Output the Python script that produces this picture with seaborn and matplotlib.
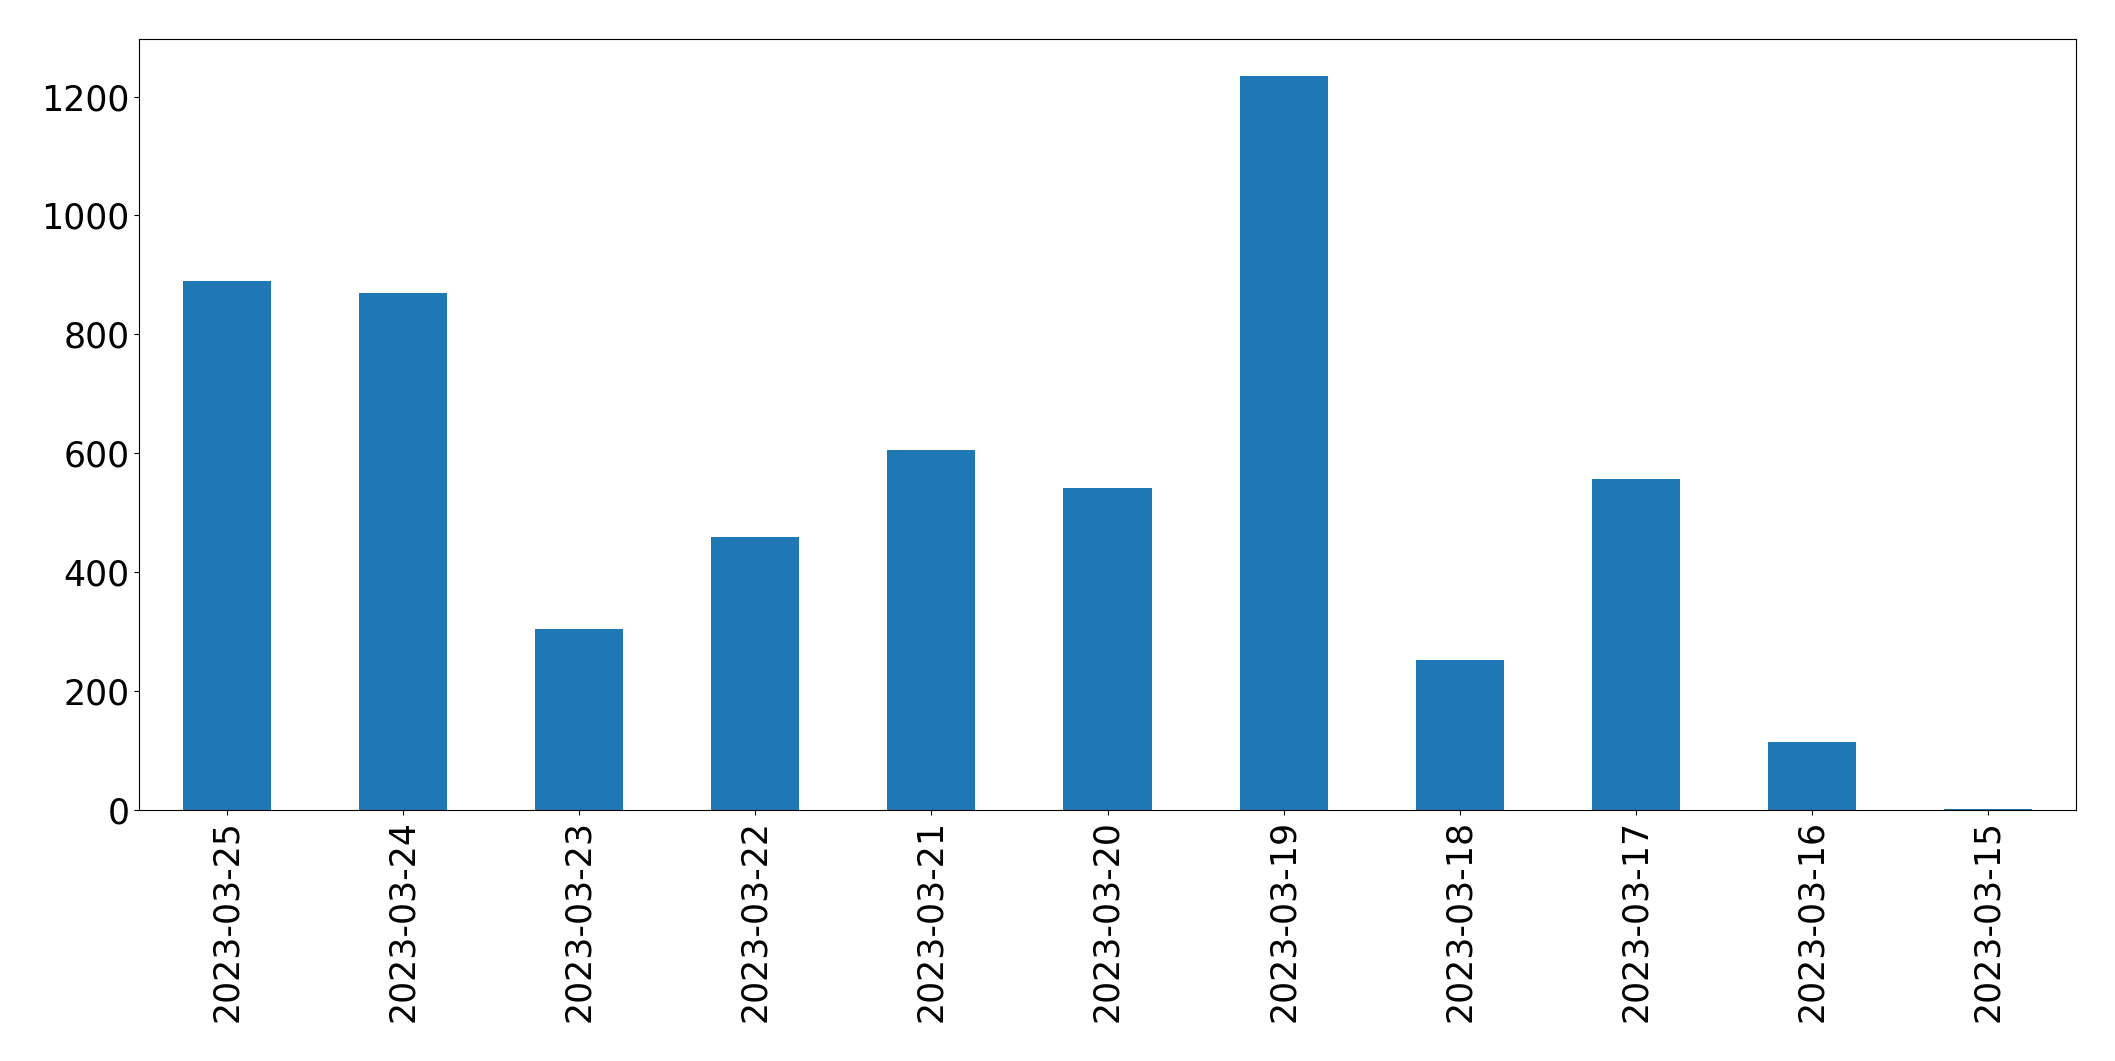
import matplotlib
matplotlib.use("Agg")
import matplotlib.pyplot as plt
import seaborn as sns

dates = ['2023-03-25', '2023-03-24', '2023-03-23', '2023-03-22', '2023-03-21',
         '2023-03-20', '2023-03-19', '2023-03-18', '2023-03-17', '2023-03-16',
         '2023-03-15']
counts = [889, 870, 305, 459, 605, 541, 1235, 253, 557, 115, 2]

fig = plt.figure(figsize=(21.15, 10.61), dpi=100)
ax = fig.add_axes([139 / 2115, 1 - 810 / 1061, (2076 - 139) / 2115, (810 - 39) / 1061])

sns.barplot(x=dates, y=counts, color='#1f77b4', saturation=1, width=0.5, ax=ax)

ax.set_xlim(-0.5, len(dates) - 0.5)
ax.set_ylim(0, max(counts) * 1.05)
ax.tick_params(axis='both', labelsize=25)
ax.tick_params(axis='x', labelrotation=90)

fig.savefig('out.png', dpi=100)
